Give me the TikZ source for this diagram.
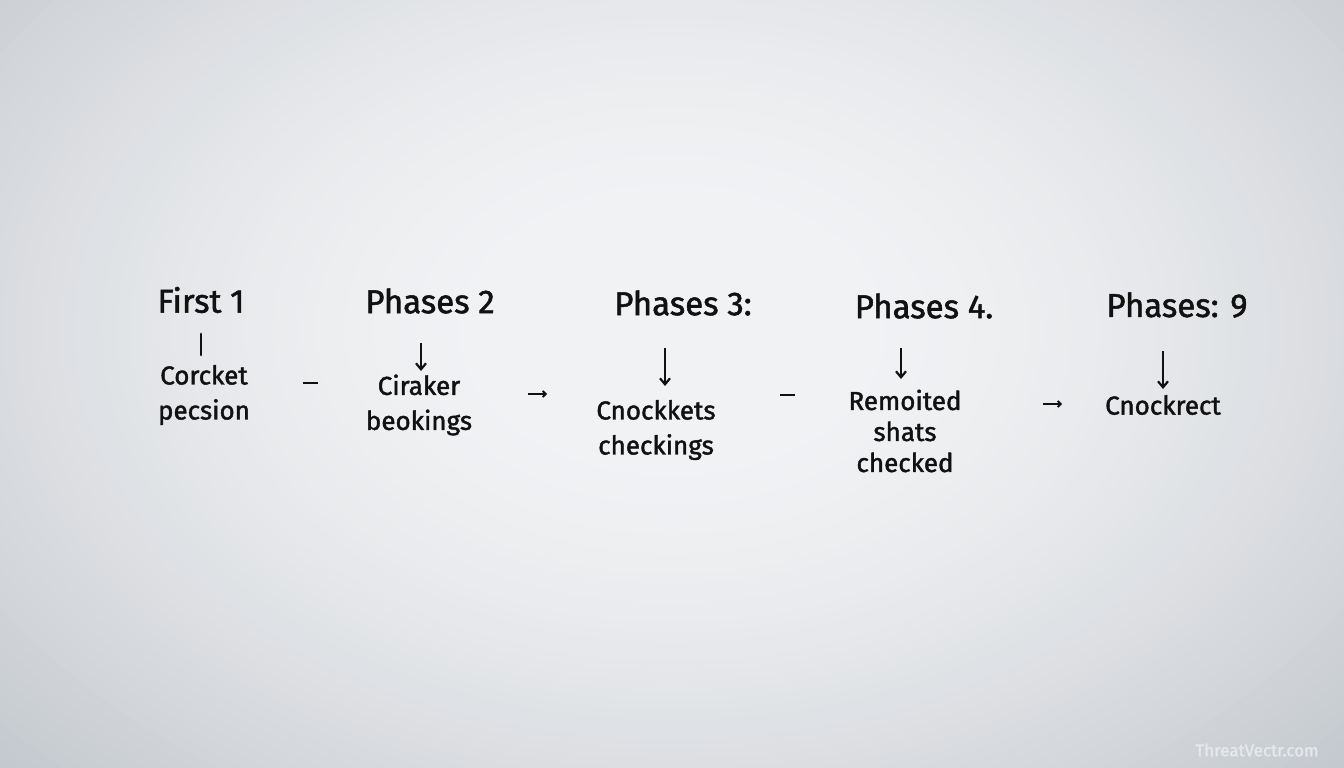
\documentclass[tikz,border=0pt]{standalone}
\usepackage{fontspec}
\setmainfont{Fira Sans}
\newfontfamily\marker{Fira Sans}[FakeBold=1.6]
\usetikzlibrary{arrows.meta}
\definecolor{bgin}{HTML}{F1F2F4}
\definecolor{bgout}{HTML}{C2C7CD}
\definecolor{ink}{HTML}{111111}
\definecolor{wm}{HTML}{E6E8EB}
\tikzset{
  head/.style={font=\fontsize{33}{36}\selectfont\marker, text=ink, inner sep=0pt, anchor=center},
  item/.style={font=\fontsize{26}{35}\selectfont\marker, text=ink, inner sep=0pt, align=center, anchor=center},
  down/.style={draw=ink, line width=2.5pt, -{Straight Barb[length=6pt,width=10pt,line width=2.2pt]}},
  bar/.style={draw=ink, line width=2.8pt, line cap=round},
  dashc/.style={draw=ink, line width=2.6pt},
  flow/.style={draw=ink, line width=2.4pt, -{Straight Barb[length=3pt,width=6pt,line width=1.8pt]}}
}
\begin{document}
\begin{tikzpicture}[x=1pt,y=-1pt]
\useasboundingbox (0,0) rectangle (1344,768);
\begin{scope}
\clip (0,0) rectangle (1344,768);
\fill[bgout] (0,0) rectangle (1344,768);
\foreach \k in {0,...,70}{
  \pgfmathsetmacro\s{1.05-1.05*\k/70}
  \pgfmathsetmacro\t{min(100,100*(max(\s-0.2,0)/0.8)^1.5)}
  \fill[bgout!\t!bgin] (672,330) ellipse [x radius=950*\s, y radius=650*\s];
}
\end{scope}

% headings
\node[head] (h1) at (201,300) {First 1};
\node[head] (h2) at (430,301) {Phases 2};
\node[head] (h3) at (683,303) {Phases 3:};
\node[head] (h4) at (924,306) {Phases 4.};
\node[head] (h5) at (1177,305) {Phases: 9};

% items
\node[item] (i1) at (204,395) {Corcket\\pecsion};
\node[item] (i2) at (419,405) {Ciraker\\beokings};
\node[item] (i3) at (656,430) {Cnockkets\\checkings};
\node[item, font=\fontsize{26}{31}\selectfont\marker] (i4) at (905,431) {Remoited\\shats\\checked};
\node[item] (i5) at (1163,405) {Cnockrect};

% vertical connectors
\coordinate (v1a) at (201,334);
\coordinate (v1b) at (201,355);
\draw[bar] (v1a) -- (v1b);
\coordinate (v2a) at (421,343);
\coordinate (v2b) at (421,371);
\draw[down] (v2a) -- (v2b);
\coordinate (v3a) at (665,348);
\coordinate (v3b) at (665,386);
\draw[down] (v3a) -- (v3b);
\coordinate (v4a) at (901,348);
\coordinate (v4b) at (901,379);
\draw[down] (v4a) -- (v4b);
\coordinate (v5a) at (1163,351);
\coordinate (v5b) at (1163,389);
\draw[down] (v5a) -- (v5b);

% horizontal connectors
\coordinate (d1a) at (303,383);
\coordinate (d1b) at (318,383);
\draw[dashc] (d1a) -- (d1b);
\coordinate (d2a) at (528,394);
\coordinate (d2b) at (547,394);
\draw[flow] (d2a) -- (d2b);
\coordinate (d3a) at (780,395);
\coordinate (d3b) at (795,395);
\draw[dashc] (d3a) -- (d3b);
\coordinate (d4a) at (1043,404);
\coordinate (d4b) at (1062,404);
\draw[flow] (d4a) -- (d4b);

% watermark
\node[font=\fontsize{17}{20}\selectfont\marker, text=wm, inner sep=0pt] (wm) at (1257,750) {ThreatVectr.com};
\end{tikzpicture}
\end{document}
